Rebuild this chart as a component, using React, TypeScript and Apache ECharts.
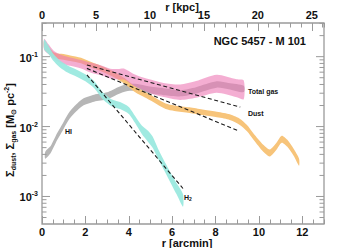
import React, { useEffect, useRef } from "react";
import * as echarts from "echarts";

// ---- data (r in arcmin, surface densities in Msun pc^-2, band half-widths in dex)
const gasR = [0.1, 0.3, 0.55, 0.9, 1.3, 1.8, 2.23, 2.7, 3.15, 3.5, 3.8, 4.2, 4.7, 5.2, 5.6, 6.37, 7.1, 8.05, 8.98, 9.3];
const gasV = [0.15, 0.128, 0.105, 0.092, 0.085, 0.078, 0.07, 0.064, 0.057, 0.056, 0.056, 0.047, 0.0405, 0.036, 0.0334, 0.031, 0.034, 0.041, 0.0353, 0.0335];
const gasErr = [0.08, 0.07, 0.06, 0.06, 0.06, 0.06, 0.07, 0.07, 0.07, 0.075, 0.08, 0.085, 0.09, 0.1, 0.1, 0.11, 0.12, 0.13, 0.13, 0.135];

const dustR = [0.1, 0.3, 0.55, 0.9, 1.3, 1.8, 2.3, 2.8, 3.3, 3.8, 4.3, 4.8, 5.3, 5.7, 6.1, 6.8, 7.4, 8.0, 8.6, 9.1, 9.45, 9.75, 10.2, 10.5, 10.8, 11.05, 11.3, 11.6, 11.85];
const dustV = [0.15, 0.125, 0.105, 0.1, 0.095, 0.088, 0.076, 0.066, 0.056, 0.045, 0.034, 0.028, 0.0228, 0.0195, 0.0183, 0.0172, 0.016, 0.015, 0.0138, 0.0118, 0.0095, 0.0072, 0.0049, 0.0042, 0.0052, 0.0066, 0.0058, 0.0043, 0.0031];
const dustErr = [0.06, 0.05, 0.04, 0.04, 0.04, 0.04, 0.04, 0.04, 0.04, 0.04, 0.04, 0.04, 0.04, 0.04, 0.04, 0.04, 0.04, 0.04, 0.04, 0.045, 0.045, 0.045, 0.05, 0.05, 0.05, 0.05, 0.05, 0.05, 0.05];

const hiR = [0.15, 0.4, 0.7, 0.95, 1.2, 1.5, 1.9, 2.4, 3.0, 3.5, 3.9, 4.4, 4.9, 5.6, 6.4, 7.1, 8.05, 8.6, 9.3];
const hiV = [0.0039, 0.0047, 0.0072, 0.0098, 0.0135, 0.0175, 0.0225, 0.0255, 0.0275, 0.0325, 0.036, 0.0362, 0.0335, 0.0316, 0.03, 0.033, 0.04, 0.038, 0.0345];
const hiErr = [0.05, 0.05, 0.05, 0.05, 0.05, 0.05, 0.05, 0.05, 0.05, 0.05, 0.05, 0.05, 0.05, 0.05, 0.045, 0.045, 0.045, 0.045, 0.045];

const h2R = [0.1, 0.3, 0.5, 0.8, 1.2, 1.6, 2.0, 2.4, 2.85, 3.2, 3.6, 4.0, 4.3, 4.6, 4.9, 5.1, 5.4, 5.8, 6.2, 6.5];
const h2V = [0.15, 0.125, 0.1, 0.08, 0.066, 0.058, 0.05, 0.04, 0.0266, 0.022, 0.02, 0.017, 0.0125, 0.009, 0.0072, 0.006, 0.0038, 0.0022, 0.0013, 0.00088];
const h2Err = [0.07, 0.06, 0.05, 0.05, 0.05, 0.05, 0.05, 0.05, 0.05, 0.05, 0.05, 0.05, 0.05, 0.06, 0.08, 0.08, 0.07, 0.07, 0.08, 0.09];

const gasFitR = [2.07, 9.14];
const gasFitV = [0.076, 0.019];
const dustFitR = [2.07, 9.06];
const dustFitV = [0.068, 0.0087];
const h2FitR = [2.07, 6.5];
const h2FitV = [0.055, 0.0013];

// axis definitions
const xMin = 0;
const xMax = 13;
const kpcPerArcmin = 2.01;
const yMinVal = 4.04e-4;
const yMaxVal = 0.303;
const yDecades = [-4, -3, -2, -1];
const yMultipliers = [1, 2, 3, 4, 5, 6, 7, 8, 9];
const yLabelExps = [-3, -2, -1];

const FONT = '"Liberation Sans", Arial, Helvetica, sans-serif';
const AXIS_GREY = "#9a9a9a";

const lg = (v: number) => Math.log10(v);
const yMin = lg(yMinVal);
const yMax = lg(yMaxVal);

function bandSeries(name: string, r: number[], v: number[], err: number[], color: string, opacity: number, z: number) {
  return {
    type: "custom",
    name,
    z,
    clip: true,
    silent: true,
    xAxisIndex: 0,
    yAxisIndex: 0,
    data: r.map((x, i) => [x, lg(v[i])]),
    renderItem: (params: any, api: any) => {
      if (params.dataIndex !== 0) return null;
      const up = r.map((x, i) => api.coord([x, lg(v[i]) + err[i]]));
      const lo = r.map((x, i) => api.coord([x, lg(v[i]) - err[i]])).reverse();
      return {
        type: "polygon",
        shape: { points: up.concat(lo), smooth: 0.25 },
        style: { fill: color, opacity },
      };
    },
  };
}

function fitSeries(name: string, r: number[], v: number[]) {
  return {
    type: "line",
    name,
    z: 20,
    silent: true,
    xAxisIndex: 0,
    yAxisIndex: 0,
    symbol: "none",
    data: r.map((x, i) => [x, lg(v[i])]),
    lineStyle: { color: "#1a1a1a", width: 1.1, type: [4, 2.6] },
  };
}

const tickSeries = {
  type: "custom",
  name: "yticks",
  z: 30,
  clip: false,
  silent: true,
  xAxisIndex: 0,
  yAxisIndex: 0,
  data: [[xMin, yMin]],
  renderItem: (params: any, api: any) => {
    if (params.dataIndex !== 0) return null;
    const children: any[] = [];
    for (const d of yDecades) {
      for (const m of yMultipliers) {
        const lv = d + Math.log10(m);
        if (lv < yMin - 1e-9 || lv > yMax + 1e-9) continue;
        const pl = api.coord([xMin, lv]);
        const pr = api.coord([xMax, lv]);
        const len = m === 1 ? 8 : 4.5;
        children.push({
          type: "line",
          shape: { x1: pl[0], y1: pl[1], x2: pl[0] + len, y2: pl[1] },
          style: { stroke: AXIS_GREY, lineWidth: 1 },
        });
        children.push({
          type: "line",
          shape: { x1: pr[0], y1: pr[1], x2: pr[0] - len, y2: pr[1] },
          style: { stroke: AXIS_GREY, lineWidth: 1 },
        });
        if (m === 1 && yLabelExps.indexOf(d) >= 0) {
          children.push({
            type: "text",
            x: pl[0] - 4,
            y: pl[1] + 1,
            style: {
              text: `{b|10}{s|${d}}`,
              align: "right",
              verticalAlign: "middle",
              rich: {
                b: { fontFamily: FONT, fontWeight: "bold", fontSize: 11, fill: "#111" },
                s: { fontFamily: FONT, fontWeight: "bold", fontSize: 7, fill: "#111", padding: [0, 0, 7, 0] },
              },
            },
          });
        }
      }
    }
    return { type: "group", children };
  },
};

const labelFont = { fontFamily: FONT, fontWeight: "bold", fontSize: 11, color: "#111" };

export default function App() {
  const ref = useRef<HTMLDivElement>(null);
  useEffect(() => {
    if (!ref.current) return;
    const chart = echarts.init(ref.current, null, { renderer: "svg" });
    const option: any = {
      animation: false,
      backgroundColor: "#ffffff",
      grid: {
        left: 42,
        right: 29,
        top: 23,
        bottom: 24,
        show: true,
        borderColor: AXIS_GREY,
        borderWidth: 1.3,
        backgroundColor: "transparent",
      },
      xAxis: [
        {
          type: "value",
          position: "bottom",
          min: xMin,
          max: xMax,
          interval: 2,
          axisLine: { show: false, onZero: false },
          axisTick: { show: true, inside: true, length: 8, lineStyle: { color: AXIS_GREY, width: 1 } },
          axisLabel: { ...labelFont, margin: 2, showMaxLabel: false },
          splitLine: { show: false },
        },
        {
          type: "value",
          position: "bottom",
          min: xMin,
          max: xMax,
          interval: 0.5,
          axisLine: { show: false, onZero: false },
          axisTick: { show: true, inside: true, length: 4.5, lineStyle: { color: AXIS_GREY, width: 1 } },
          axisLabel: { show: false },
          splitLine: { show: false },
        },
        {
          type: "value",
          position: "top",
          min: xMin * kpcPerArcmin,
          max: xMax * kpcPerArcmin,
          interval: 5,
          axisLine: { show: false, onZero: false },
          axisTick: { show: true, inside: true, length: 8, lineStyle: { color: AXIS_GREY, width: 1 } },
          axisLabel: { ...labelFont, margin: 3, showMaxLabel: false },
          splitLine: { show: false },
        },
        {
          type: "value",
          position: "top",
          min: xMin * kpcPerArcmin,
          max: xMax * kpcPerArcmin,
          interval: 1,
          axisLine: { show: false, onZero: false },
          axisTick: { show: true, inside: true, length: 4.5, lineStyle: { color: AXIS_GREY, width: 1 } },
          axisLabel: { show: false },
          splitLine: { show: false },
        },
      ],
      yAxis: [
        {
          type: "value",
          min: yMin,
          max: yMax,
          axisLine: { show: false },
          axisTick: { show: false },
          axisLabel: { show: false },
          splitLine: { show: false },
        },
      ],
      series: [
        bandSeries("HI", hiR, hiV, hiErr, "#b6b6b6", 1, 2),
        bandSeries("Dust", dustR, dustV, dustErr, "#f7c47a", 1, 3),
        bandSeries("Total gas", gasR, gasV, gasErr, "#ec78b4", 0.6, 4),
        bandSeries("H2", h2R, h2V, h2Err, "#98e8de", 0.92, 5),
        fitSeries("Total gas fit", gasFitR, gasFitV),
        fitSeries("Dust fit", dustFitR, dustFitV),
        fitSeries("H2 fit", h2FitR, h2FitV),
        tickSeries,
      ],
      graphic: [
        {
          type: "text",
          x: 306,
          y: 41,
          style: { text: "NGC 5457 - M 101", align: "right", verticalAlign: "middle", font: `bold 11px ${FONT}`, fill: "#111" },
        },
        {
          type: "text",
          x: 248,
          y: 91,
          style: { text: "Total gas", align: "left", verticalAlign: "middle", font: `bold 7px ${FONT}`, fill: "#111" },
        },
        {
          type: "text",
          x: 248,
          y: 113,
          style: { text: "Dust", align: "left", verticalAlign: "middle", font: `bold 7px ${FONT}`, fill: "#111" },
        },
        {
          type: "text",
          x: 65,
          y: 131,
          style: { text: "HI", align: "left", verticalAlign: "middle", font: `bold 7px ${FONT}`, fill: "#111" },
        },
        {
          type: "text",
          x: 184,
          y: 197,
          style: {
            text: "{a|H}{b|2}",
            align: "left",
            verticalAlign: "middle",
            rich: {
              a: { fontFamily: FONT, fontWeight: "bold", fontSize: 7, fill: "#111" },
              b: { fontFamily: FONT, fontWeight: "bold", fontSize: 5, fill: "#111", padding: [4, 0, 0, 0] },
            },
          },
        },
        {
          type: "text",
          x: 182,
          y: 7,
          style: { text: "r [kpc]", align: "center", verticalAlign: "middle", font: `bold 11px ${FONT}`, fill: "#111" },
        },
        {
          type: "text",
          x: 187,
          y: 242.5,
          style: { text: "r [arcmin]", align: "center", verticalAlign: "middle", font: `bold 11px ${FONT}`, fill: "#111" },
        },
        {
          type: "text",
          x: 10,
          y: 130,
          rotation: Math.PI / 2,
          style: {
            text: "{m|Σ}{s|dust}{m|, Σ}{s|gas}{m| [M}{s|⊙}{m| pc}{p|-2}{m|]}",
            align: "center",
            verticalAlign: "middle",
            rich: {
              m: { fontFamily: FONT, fontWeight: "bold", fontSize: 11, fill: "#111" },
              s: { fontFamily: FONT, fontWeight: "bold", fontSize: 7, fill: "#111", padding: [6, 0, 0, 0] },
              p: { fontFamily: FONT, fontWeight: "bold", fontSize: 7, fill: "#111", padding: [0, 0, 7, 0] },
            },
          },
        },
      ],
    };
    chart.setOption(option);
    return () => chart.dispose();
  }, []);
  return <div ref={ref} style={{ position: "fixed", left: 0, top: 0, width: 353, height: 248 }} />;
}
